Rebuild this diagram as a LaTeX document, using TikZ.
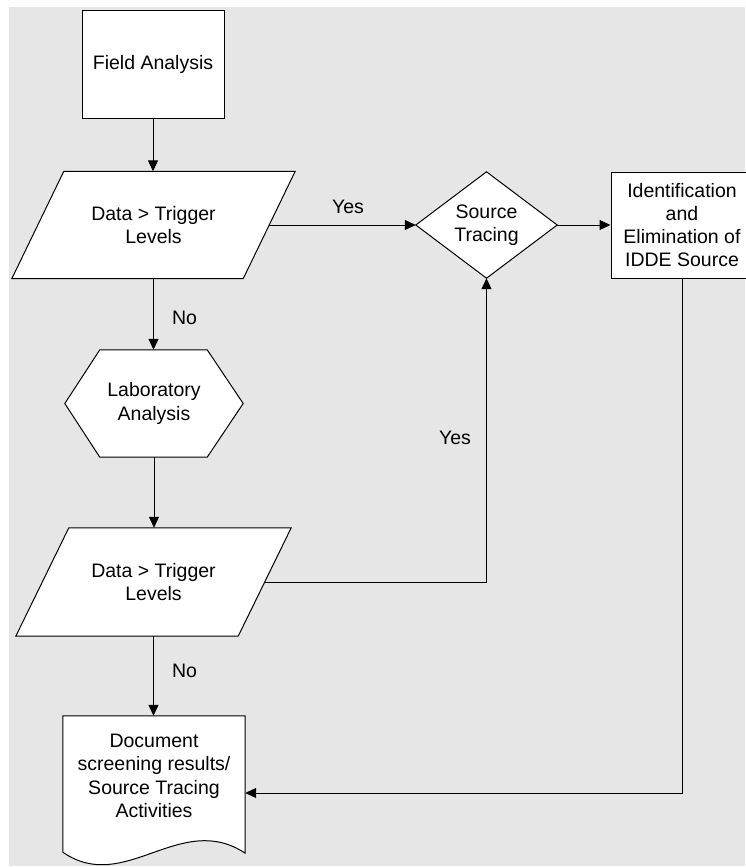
\documentclass[tikz,border=0pt]{standalone}
\usepackage{fontspec}
\setmainfont{Liberation Sans}
\usetikzlibrary{arrows.meta,calc}
\definecolor{bggray}{HTML}{E6E6E6}
\pgfdeclarelayer{bg}
\pgfsetlayers{bg,main}
\begin{document}
\begin{tikzpicture}[x=1pt,y=-1pt,
  txt/.style={font=\fontsize{19.5}{23.3}\selectfont, align=center, inner sep=0pt},
  outl/.style={draw=black, line width=1pt, fill=white},
  arr/.style={draw=black, line width=1pt, -{Triangle[length=11pt,width=10pt]}},
  lbl/.style={font=\fontsize{19.5}{23.3}\selectfont, inner sep=0pt}]
\useasboundingbox (0,0) rectangle (745,867);
\begin{pgfonlayer}{bg}
\fill[bggray] (9,7) rectangle (745,866);
\end{pgfonlayer}

% nodes
\node[txt, outl, minimum width=142pt, minimum height=107pt] (field) at (153,64.5) {Field Analysis};
\node[txt, minimum width=283pt, minimum height=107pt] (p1) at (153.5,225) {Data > Trigger\\Levels};
\node[txt, minimum width=141pt, minimum height=106pt] (st) at (486.5,225) {Source\\Tracing};
\node[txt, outl, minimum width=142pt, minimum height=106pt] (iden) at (682,225) {Identification\\and\\Elimination of\\IDDE Source};
\node[txt, minimum width=178pt, minimum height=107pt] (hex) at (154,403.5) {Laboratory\\Analysis};
\node[txt, minimum width=275pt, minimum height=108pt] (p2) at (153.5,582) {Data > Trigger\\Levels};
\node[txt, minimum width=182pt, minimum height=120pt] (doc) at (154,776) {Document\\screening results/\\Source Tracing\\Activities};

% outlines
\begin{pgfonlayer}{bg}
\draw[outl] (p1.south west) -- ($(p1.north west)+(52,0)$) -- (p1.north east) -- ($(p1.south east)+(-52,0)$) -- cycle;
\draw[outl] (st.west) -- (st.north) -- (st.east) -- (st.south) -- cycle;
\draw[outl] (hex.west) -- ($(hex.north west)+(35,0)$) -- ($(hex.north east)+(-36,0)$) -- (hex.east) -- ($(hex.south east)+(-36,0)$) -- ($(hex.south west)+(35,0)$) -- cycle;
\draw[outl] (p2.south west) -- ($(p2.north west)+(53,0)$) -- (p2.north east) -- ($(p2.south east)+(-53,0)$) -- cycle;
\draw[outl] (doc.north west) -- (doc.north east) -- ($(doc.south east)+(0,17)$)
  .. controls ($(doc.south east)+(-65,-26)$) and ($(doc.south west)+(62,59)$) .. ($(doc.south west)+(0,16)$) -- cycle;
\end{pgfonlayer}

% connectors
\draw[arr] (field.south) -- (field.south |- p1.north);
\draw[arr] (p1.south) -- (p1.south |- hex.north);
\draw[arr] ($(p1.east)+(-26,0)$) -- (st.west);
\draw[arr] (st.east) -- (iden.west);
\draw[arr] (hex.south) -- (hex.south |- p2.north);
\draw[arr] ($(p2.east)+(-26.5,0)$) -| (st.south);
\draw[arr] (p2.south) -- (p2.south |- doc.north);
\draw[arr] (iden.south) |- ($(doc.east)+(0,17)$);

% labels
\node[lbl] (yes1) at (348,207) {Yes};
\node[lbl] (no1) at (184.5,318) {No};
\node[lbl] (yes2) at (455,438) {Yes};
\node[lbl] (no2) at (184.5,671) {No};
\end{tikzpicture}
\end{document}
